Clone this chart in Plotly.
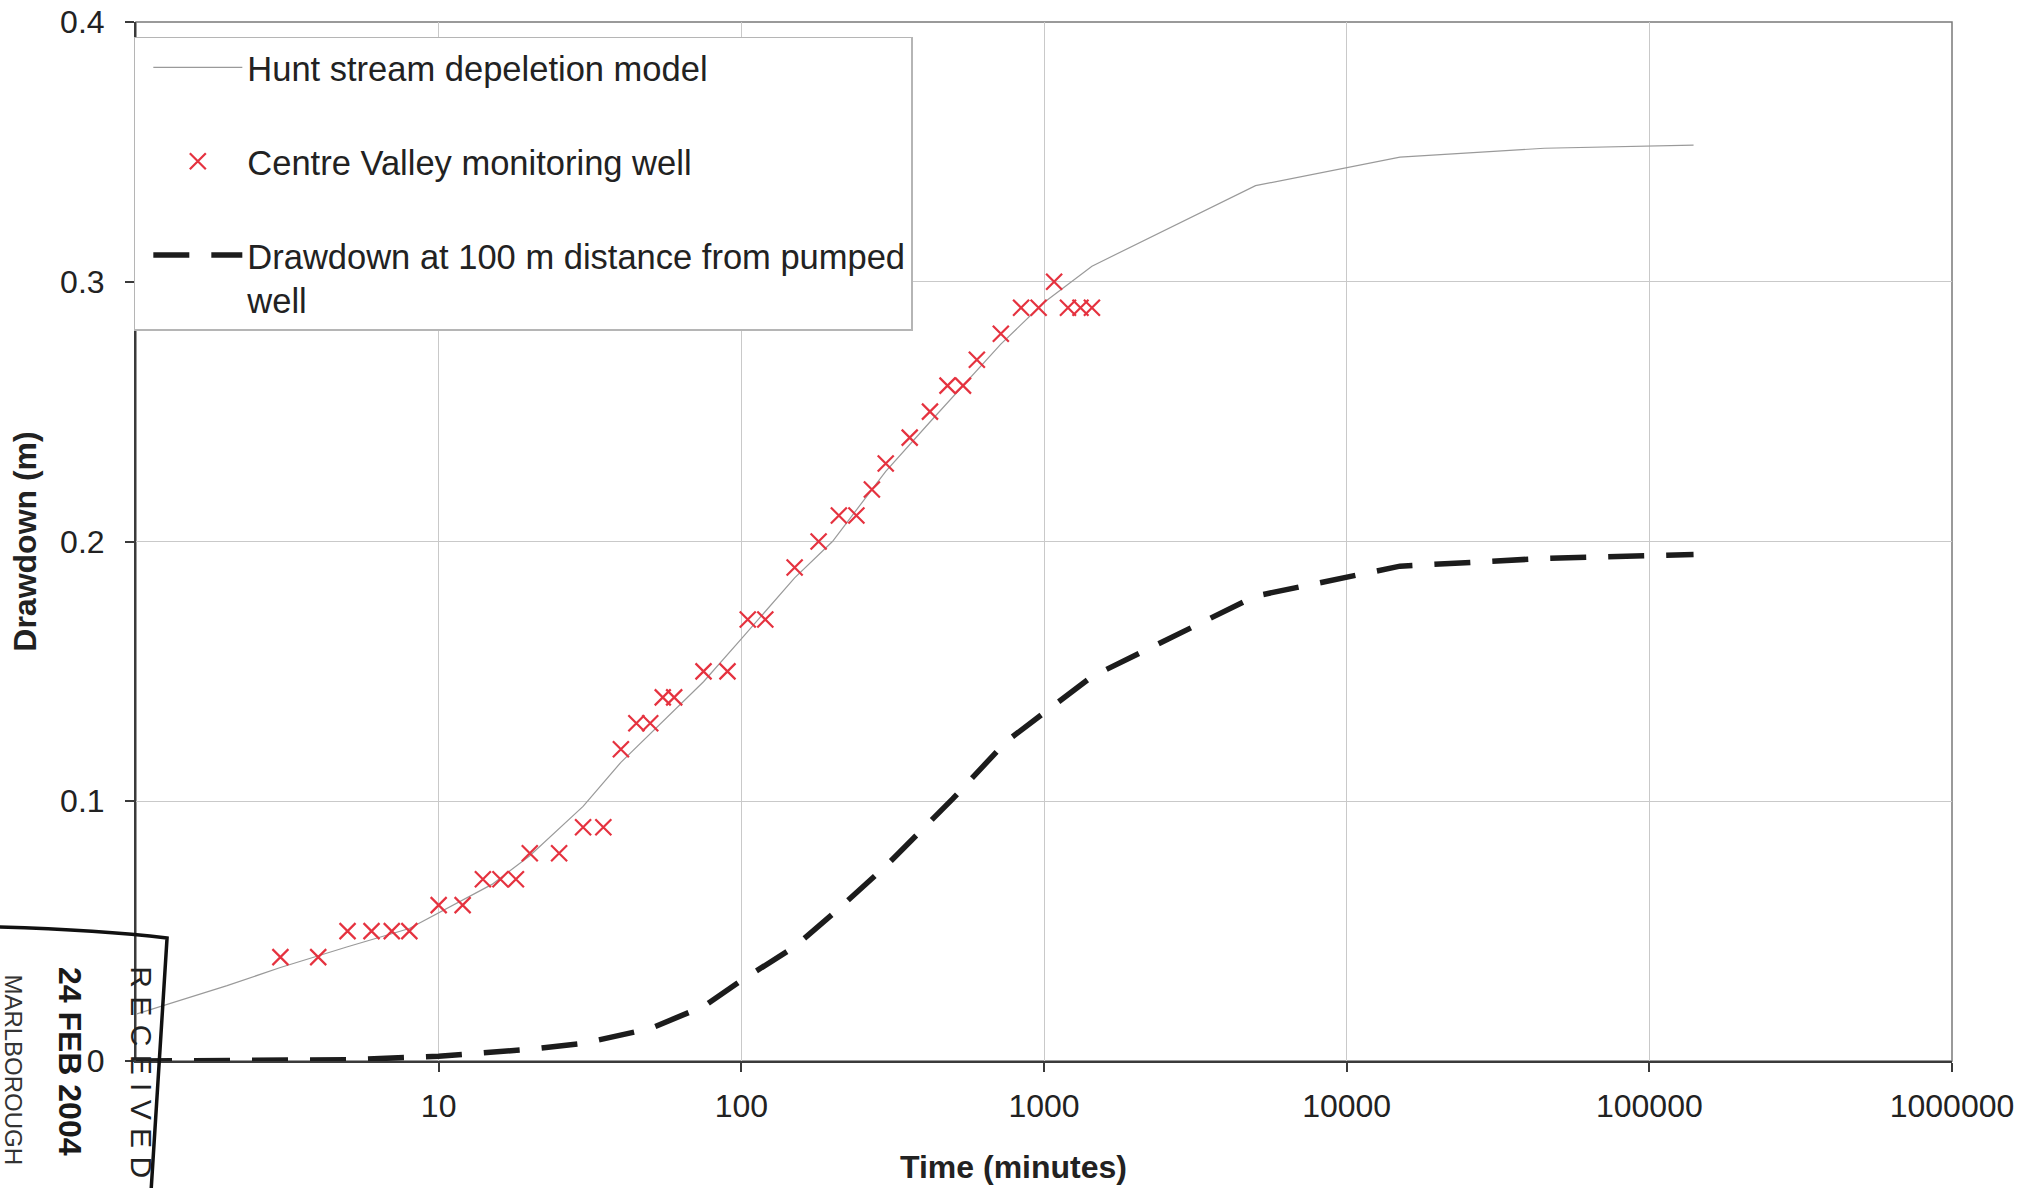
import plotly.graph_objects as go

# ---- data ----
obs_time = [3, 4, 5, 6, 7, 8, 10, 12, 14, 16, 18, 20, 25, 30, 35, 40, 45, 50, 55, 60,
            75, 90, 105, 120, 150, 180, 210, 240, 270, 300, 360, 420, 480, 540, 600,
            720, 840, 960, 1080, 1200, 1320, 1440]
obs_drawdown = [0.04, 0.04, 0.05, 0.05, 0.05, 0.05, 0.06, 0.06, 0.07, 0.07, 0.07, 0.08,
                0.08, 0.09, 0.09, 0.12, 0.13, 0.13, 0.14, 0.14, 0.15, 0.15, 0.17, 0.17,
                0.19, 0.20, 0.21, 0.21, 0.22, 0.23, 0.24, 0.25, 0.26, 0.26, 0.27, 0.28,
                0.29, 0.29, 0.30, 0.29, 0.29, 0.29]

hunt_time = [1, 2, 3, 5, 8, 10, 15, 20, 30, 40, 50, 75, 100, 150, 200, 300, 420, 720,
             1000, 1440, 5000, 15000, 45000, 140000]
hunt_drawdown = [0.018, 0.029, 0.036, 0.044, 0.051, 0.057, 0.068, 0.079, 0.098, 0.115,
                 0.126, 0.146, 0.1625, 0.186, 0.200, 0.227, 0.246, 0.276, 0.292, 0.306,
                 0.337, 0.348, 0.3514, 0.3526]

dd_time = [1, 2, 5, 10, 20, 30, 50, 75, 100, 150, 200, 300, 400, 500, 750, 1000, 1440,
           5000, 15000, 45000, 140000]
dd_drawdown = [0.0, 0.0, 0.0005, 0.0018, 0.0045, 0.0068, 0.0125, 0.021, 0.031, 0.044,
               0.0565, 0.075, 0.090, 0.101, 0.123, 0.134, 0.148, 0.179, 0.1905, 0.1935,
               0.195]

x_tickvals = [10, 100, 1000, 10000, 100000, 1000000]
x_ticktext = ["10", "100", "1000", "10000", "100000", "1000000"]
y_tickvals = [0, 0.1, 0.2, 0.3, 0.4]
y_ticktext = ["0", "0.1", "0.2", "0.3", "0.4"]

series_names = ["Hunt stream depeletion model",
                "Centre Valley monitoring well",
                "Drawdown at 100 m distance from pumped<br>well"]
x_title = "Time (minutes)"
y_title = "Drawdown (m)"
stamp_texts = ["R E C E I V E D", "24 FEB 2004", "MARLBOROUGH"]

FONT = "Liberation Sans, Arial, Helvetica, sans-serif"

fig = go.Figure()
fig.add_trace(go.Scatter(x=hunt_time, y=hunt_drawdown, mode="lines", name=series_names[0],
                         legendgroup="a", line=dict(color="#9a9a9a", width=1.2)))
fig.add_trace(go.Scatter(x=obs_time, y=obs_drawdown, mode="markers", name=series_names[1],
                         legendgroup="b",
                         marker=dict(symbol="x-thin", size=16, color="#e5323f",
                                     line=dict(color="#e5323f", width=2.2))))
fig.add_trace(go.Scatter(x=dd_time, y=dd_drawdown, mode="lines", name=series_names[2],
                         legendgroup="c",
                         line=dict(color="#1c1c1c", width=5.5, dash="36px,22px")))

fig.update_layout(
    width=2044, height=1188,
    margin=dict(l=136, r=92, t=22, b=127, autoexpand=False),
    paper_bgcolor="white", plot_bgcolor="white",
    font=dict(family=FONT, size=32, color="#222222"),
    showlegend=True,
    legend=dict(x=-0.0012, y=0.9856, xanchor="left", yanchor="top",
                bgcolor="white", bordercolor="#b5b5b5", borderwidth=1.5,
                font=dict(size=34.5, color="#222222"), itemwidth=89, indentation=13,
                traceorder="grouped", tracegroupgap=46, valign="top"),
    xaxis=dict(type="log", range=[0, 6], tickvals=x_tickvals, ticktext=x_ticktext,
               showgrid=True, gridcolor="#c9c9c9", gridwidth=1, zeroline=False,
               showline=True, linecolor="#3a3a3a", linewidth=2,
               ticks="outside", ticklen=9, tickcolor="#3a3a3a", tickwidth=1.5,
               ticklabelstandoff=7),
    yaxis=dict(range=[0, 0.4], tickvals=y_tickvals, ticktext=y_ticktext,
               showgrid=True, gridcolor="#c9c9c9", gridwidth=1, zeroline=False,
               showline=True, linecolor="#3a3a3a", linewidth=2,
               ticks="outside", ticklen=9, tickcolor="#3a3a3a", tickwidth=1.5,
               ticklabelstandoff=14,
               title=dict(text="<b>" + y_title + "</b>", font=dict(size=32), standoff=14)),
)

# x-axis title (placed slightly left of centre, as in the reference)
fig.add_annotation(text="<b>" + x_title + "</b>", xref="paper", yref="paper",
                   x=0.483, y=-0.102, xanchor="center", yanchor="middle",
                   showarrow=False, font=dict(size=32, color="#222222", family=FONT))

# plot frame (top & right borders)
fig.add_shape(type="rect", xref="paper", yref="paper", x0=0, y0=0, x1=1, y1=1,
              line=dict(color="#7a7a7a", width=1.5), layer="below")

# "RECEIVED" stamp from the scanned page
fig.add_shape(type="path", xref="paper", yref="paper",
              path="M -0.076,0.129 Q -0.02,0.126 0.0171,0.1184 L 0.0083,-0.125",
              line=dict(color="#111111", width=3.5), layer="above")
fig.add_annotation(text=stamp_texts[0], xref="paper", yref="paper",
                   x=0.0028, y=-0.011, xanchor="center", yanchor="middle",
                   textangle=90, showarrow=False,
                   font=dict(size=30, color="#222222", family=FONT))
fig.add_annotation(text="<b>" + stamp_texts[1] + "</b>", xref="paper", yref="paper",
                   x=-0.0363, y=0.0, xanchor="center", yanchor="middle",
                   textangle=90, showarrow=False,
                   font=dict(size=32, color="#1a1a1a", family=FONT))
fig.add_annotation(text=stamp_texts[2], xref="paper", yref="paper",
                   x=-0.0672, y=-0.009, xanchor="center", yanchor="middle",
                   textangle=90, showarrow=False,
                   font=dict(size=24, color="#333333", family=FONT))

fig.write_html("out.html", config={"displayModeBar": False},
               post_script="document.body.style.margin='0';document.body.style.overflow='hidden';")
